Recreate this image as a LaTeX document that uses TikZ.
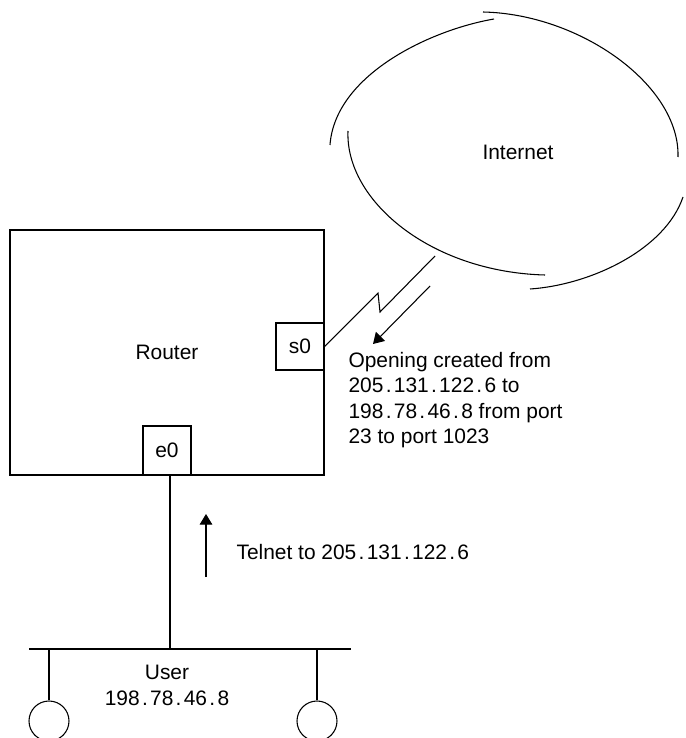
\documentclass[tikz,border=0pt]{standalone}
\usepackage{fontspec}
\setmainfont{Liberation Sans}
\usetikzlibrary{arrows.meta}
\newcommand{\dt}{\kern0.11em.\kern0.11em}
\begin{document}
\begin{tikzpicture}[x=0.75pt,y=-0.75pt,
  line width=0.8pt,
  every node/.style={font=\fontsize{15.7}{19}\selectfont, inner sep=0pt},
  box/.style={draw, rectangle},
  txt/.style={align=left},
  arr/.style={-{Triangle[length=8pt,width=9.5pt]}}
]
\clip (0,0) rectangle (685,738);
\fill[white] (0,0) rectangle (685,738);

% Router and interfaces
\node[box, minimum width=235.5pt, minimum height=183.75pt] (router) at (167,352.5) {Router};
\node[box, fill=white, minimum width=36pt, minimum height=35.25pt] (s0) at (300,346.5) {s0};
\node[box, fill=white, minimum width=36pt, minimum height=36.75pt] (e0) at (167,450.5) {e0};

% Internet cloud (sketched arcs)
\node (inet) at (518,152) {Internet};
\draw (494,19) .. controls (430,30) and (335,75) .. (330,145);
\draw (483,12) .. controls (580,14) and (680,85) .. (678,157);
\draw (348,131) .. controls (345,200) and (430,272) .. (545,275);
\draw (683,197) .. controls (665,250) and (590,285) .. (530,289);

% serial link (lightning)
\coordinate (cl) at (435,256);
\coordinate (z1) at (378,293);
\coordinate (z2) at (380,312);
\draw (s0.east) -- (z1) -- (z2) -- (cl);

% opening arrow
\coordinate (oa1) at (430,286);
\coordinate (oa2) at (373,344);
\draw[arr] (oa1) -- (oa2);
\node[txt, anchor=west] (open) at (348,400) {Opening created from\\205\dt131\dt122\dt6 to\\198\dt78\dt46\dt8 from port\\23 to port 1023};

% LAN
\coordinate (bt) at (170,649);
\coordinate (busl) at (29,649);
\coordinate (busr) at (351,649);
\draw (bt |- e0.south) -- (bt);
\draw (busl) -- (busr);
\node[circle, draw, minimum size=30pt] (h1) at (49,721) {};
\node[circle, draw, minimum size=30pt] (h2) at (317,721) {};
\draw (h1.north |- busl) -- (h1.north);
\draw (h2.north |- busl) -- (h2.north);
\node[align=center] (user) at (167,685.5) {User\\198\dt78\dt46\dt8};

% telnet arrow
\coordinate (ta1) at (206,577);
\coordinate (ta2) at (206,514);
\draw[arr] (ta1) -- (ta2);
\node[anchor=west] (telnet) at (236,552) {Telnet to 205\dt131\dt122\dt6};
\end{tikzpicture}
\end{document}
